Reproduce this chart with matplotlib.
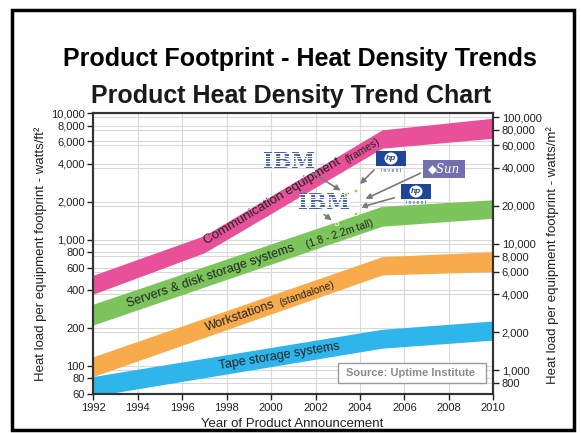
import matplotlib.pyplot as plt
from matplotlib.patches import Rectangle, Ellipse, FancyArrowPatch
from matplotlib.ticker import FixedLocator, FuncFormatter, NullLocator

plt.rcParams['font.family'] = ['Liberation Sans', 'DejaVu Sans']

W, H = 581, 433
SQFT_PER_SQM = 10.764

# band edges in watts/ft^2 at the break years
comm_years = [1992, 1997, 2005, 2010]
comm_low = [372, 790, 5300, 6350]
comm_high = [525, 1080, 7400, 9150]

server_years = [1992, 2005, 2010]
server_low = [212, 1280, 1480]
server_high = [310, 1840, 2070]

ws_years = [1992, 2005, 2010]
ws_low = [83, 527, 560]
ws_high = [119, 735, 805]

tape_years = [1992, 2005, 2010]
tape_low = [58, 139, 161]
tape_high = [83, 196, 228]

left_ticks = [60, 80, 100, 200, 400, 600, 800, 1000, 2000, 4000, 6000, 8000, 10000]
right_ticks = [800, 1000, 2000, 4000, 6000, 8000, 10000, 20000, 40000, 60000, 80000, 100000]
year_ticks = list(range(1992, 2011, 2))

PINK = '#e8519a'
GREEN = '#7cc55c'
ORANGE = '#f8ab4a'
BLUE = '#2db5ec'
GRID = '#d8d8d8'
INK = '#222222'


def px(x, y):
    # pixel position (from top-left) -> figure fraction
    return x / W, 1 - y / H


fig = plt.figure(figsize=(W / 100, H / 100), dpi=100)
ax = fig.add_axes([93.3 / W, 1 - 394.3 / H, 400 / W, 281 / H])
ax.set_yscale('log')
ax.set_xlim(1992, 2010)
ax.set_ylim(60, 10000)

# grid: vertical every two years, horizontal at both axes' ticks
for x in year_ticks[1:-1]:
    ax.axvline(x, color=GRID, lw=0.8, zorder=0)
for y in left_ticks:
    ax.axhline(y, color=GRID, lw=0.8, zorder=0)
for y in right_ticks:
    ax.axhline(y / SQFT_PER_SQM, color=GRID, lw=0.8, zorder=0)

ax.fill_between(comm_years, comm_low, comm_high, color=PINK, lw=0, zorder=2)
ax.fill_between(server_years, server_low, server_high, color=GREEN, lw=0, zorder=2)
ax.fill_between(ws_years, ws_low, ws_high, color=ORANGE, lw=0, zorder=2)
ax.fill_between(tape_years, tape_low, tape_high, color=BLUE, lw=0, zorder=2)

lab = dict(ha='center', va='center', rotation_mode='anchor', color=INK, zorder=3)
ax.text(2000.06, 1995, 'Communication equipment', rotation=31, fontsize=9.5, **lab)
ax.text(2004.1, 5035, '(frames)', rotation=31, fontsize=7.5, **lab)
ax.text(1997.28, 520, 'Servers & disk storage systems', rotation=18.7, fontsize=9, **lab)
ax.text(2003.1, 1120, '(1.8 - 2.2m tall)', rotation=18.7, fontsize=7.5, **lab)
ax.text(1998.6, 247, 'Workstations', rotation=19.3, fontsize=9, **lab)
ax.text(2001.6, 372, '(standalone)', rotation=19.3, fontsize=7.5, **lab)
ax.text(2000.37, 119, 'Tape storage systems', rotation=9.3, fontsize=9, **lab)

ax.xaxis.set_major_locator(FixedLocator(year_ticks))
ax.yaxis.set_major_locator(FixedLocator(left_ticks))
ax.yaxis.set_minor_locator(NullLocator())
ax.yaxis.set_major_formatter(FuncFormatter(lambda v, p: f'{v:,.0f}'))
ax.tick_params(direction='out', length=4, width=1, labelsize=8, colors=INK, pad=2)

ax2 = ax.twinx()
ax2.set_yscale('log')
ax2.set_ylim(60 * SQFT_PER_SQM, 10000 * SQFT_PER_SQM)
ax2.yaxis.set_major_locator(FixedLocator(right_ticks))
ax2.yaxis.set_minor_locator(NullLocator())
ax2.yaxis.set_major_formatter(FuncFormatter(lambda v, p: f'{v:,.0f}'))
ax2.tick_params(direction='out', length=4, width=1, labelsize=8, colors=INK, pad=2)

for a in (ax, ax2):
    for s in a.spines.values():
        s.set_color('#333333')
        s.set_linewidth(1.5)

# axis titles
fig.text(*px(41, 254), 'Heat load per equipment footprint - watts/ft²', rotation=90,
         ha='center', va='center', fontsize=9.5, color=INK)
fig.text(*px(553, 255), 'Heat load per equipment footprint - watts/m²', rotation=90,
         ha='center', va='center', fontsize=9.5, color=INK)
fig.text(*px(292, 424), 'Year of Product Announcement', ha='center', va='center',
         fontsize=9.5, color=INK)

# headings
fig.text(*px(300, 66), 'Product Footprint - Heat Density Trends', ha='center',
         va='baseline', fontsize=18, fontweight='bold')
fig.text(*px(291, 103), 'Product Heat Density Trend Chart', ha='center',
         va='baseline', fontsize=18, fontweight='bold', color='#1a1a1a')

# source box
x0, y0 = px(338, 383)
fig.add_artist(Rectangle((x0, y0), 148 / W, 20 / H, transform=fig.transFigure,
                         facecolor='white', edgecolor='#9a9a9a', lw=1, zorder=5))
fig.text(*px(411, 373), 'Source: Uptime Institute', ha='center', va='center',
         fontsize=8, fontweight='bold', color='#8a8a8a', zorder=6)


# vendor logos
def ibm(cx, cy):
    fig.text(*px(cx, cy), 'IBM', ha='center', va='center', fontsize=15.5,
             fontweight='bold', family='DejaVu Serif', color='#3d56b2', zorder=6)
    for k in range(8):
        yy = cy - 9 + k * 2.6
        fig.add_artist(plt.Line2D([(cx - 25) / W, (cx + 25) / W], [1 - yy / H] * 2,
                                  transform=fig.transFigure, color='white', lw=0.8, zorder=7))


def hp(x, y):
    fig.add_artist(Rectangle(px(x, y + 15), 30 / W, 15 / H, transform=fig.transFigure,
                             facecolor='#1f4596', edgecolor='none', zorder=6))
    fig.add_artist(Ellipse(px(x + 15, y + 7.5), 13 / W, 12 / H, transform=fig.transFigure,
                           facecolor='white', edgecolor='none', zorder=7))
    fig.text(*px(x + 15, y + 7.5), 'hp', ha='center', va='center', fontsize=6,
             style='italic', fontweight='bold', color='#1f4596', zorder=8)
    fig.text(*px(x + 15, y + 19), 'i n v e n t', ha='center', va='center', fontsize=3.5,
             color='#1f4596', zorder=8)


def sun(x, y):
    fig.add_artist(Rectangle(px(x, y + 18), 42 / W, 18 / H, transform=fig.transFigure,
                             facecolor='#7470ad', edgecolor='none', zorder=6))
    fig.text(*px(x + 21, y + 9), '\u25c6Sun', ha='center', va='center', fontsize=8.5,
             style='italic', family='DejaVu Serif', color='white', zorder=7)


arrows = [((311, 172), (343, 192)), ((376, 168), (358, 186)), ((423, 172), (363, 200)),
          ((397, 197), (358, 208)), ((322, 213), (334, 222))]
for a, b in arrows:
    fig.add_artist(FancyArrowPatch(px(*a), px(*b), transform=fig.transFigure,
                                   arrowstyle='-|>', mutation_scale=8, color='#7a7a7a',
                                   lw=1.2, zorder=5))

ibm(289, 162)
ibm(324, 203)
hp(376, 151)
hp(401, 184)
sun(423, 160)

for (hx, hy), c in [((345.7, 194.3), '#8ad62a'), ((355, 190), '#8ad62a'),
                    ((355, 213.3), '#8ad62a'), ((336.7, 223.3), '#8ad62a'),
                    ((360, 204), '#9fe8d8')]:
    fig.add_artist(Rectangle(px(hx - 1.5, hy + 1.5), 3 / W, 3 / H, transform=fig.transFigure,
                             facecolor=c, edgecolor='white', lw=0.5, zorder=8))

# outer frame
fig.add_artist(Rectangle(px(12, 430), 562 / W, 420 / H, transform=fig.transFigure,
                         fill=False, edgecolor='black', lw=2.5, zorder=10))

fig.savefig('out.png', dpi=100)
